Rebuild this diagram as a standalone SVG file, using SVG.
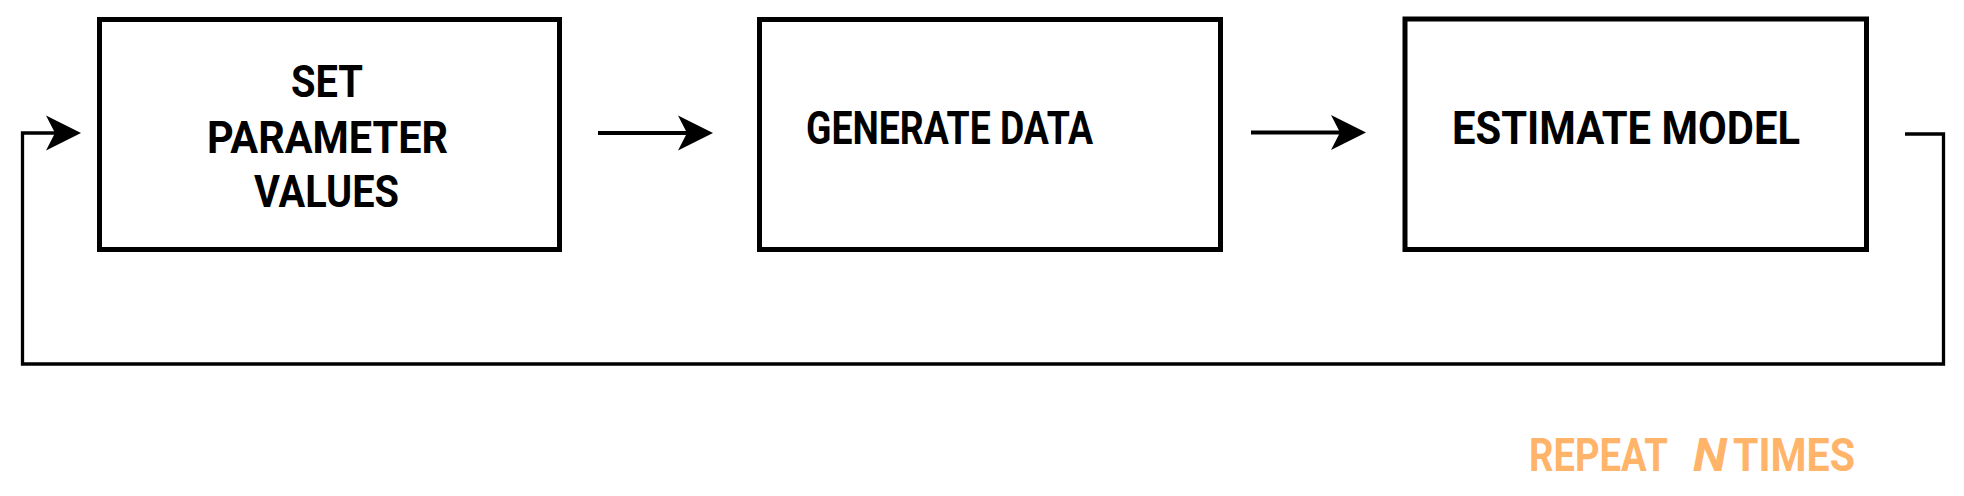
<svg xmlns="http://www.w3.org/2000/svg" xmlns:xlink="http://www.w3.org/1999/xlink" width="1964" height="496" viewBox="0 0 1964 496">
<style>
.box{fill:#fff;stroke:#000;stroke-width:5}
.lbl{font-family:Roboto,"Liberation Sans",sans-serif;font-weight:700;font-size:44px;fill:#000}
.rep{font-family:Roboto,"Liberation Sans",sans-serif;font-weight:700;font-size:46px;fill:#ffb46a}
.conn{fill:none;stroke:#000;stroke-width:4}
.loop{fill:none;stroke:#000;stroke-width:3.3}
.head{fill:#000;stroke:none}
</style>
<defs>
<path id="head" d="M0,0 L-35,-17.5 L-26,0 L-35,17.5 Z"/>
</defs>
<rect width="1964" height="496" fill="#fff"/>
<g id="set-parameter-values">
<rect class="box" x="99.5" y="19.5" width="460" height="230"/>
<text class="lbl" x="291" y="97" textLength="72" lengthAdjust="spacingAndGlyphs">SET</text>
<text class="lbl" x="207" y="152.5" textLength="241" lengthAdjust="spacingAndGlyphs">PARAMETER</text>
<text class="lbl" x="254" y="207" textLength="145" lengthAdjust="spacingAndGlyphs">VALUES</text>
</g>
<g id="generate-data">
<rect class="box" x="759.5" y="19.5" width="461" height="230"/>
<text class="lbl" x="806" y="144" textLength="287" lengthAdjust="spacingAndGlyphs" style="font-size:46px">GENERATE DATA</text>
</g>
<g id="estimate-model">
<rect class="box" x="1405" y="19" width="461.5" height="230.5"/>
<text class="lbl" x="1452" y="144" textLength="348" lengthAdjust="spacingAndGlyphs" style="font-size:46px">ESTIMATE MODEL</text>
</g>
<g id="connectors">
<line class="conn" x1="598" y1="133" x2="690" y2="133"/>
<use class="head" href="#head" xlink:href="#head" transform="translate(713,133)"/>
<line class="conn" x1="1251" y1="132.5" x2="1343" y2="132.5"/>
<use class="head" href="#head" xlink:href="#head" transform="translate(1366,132.5)"/>
<polyline class="loop" points="1905,134 1943.5,134 1943.5,364 22.5,364 22.5,133 58,133"/>
<use class="head" href="#head" xlink:href="#head" transform="translate(81,133)"/>
</g>
<g id="repeat-label">
<text class="rep" x="1529" y="471" textLength="139" lengthAdjust="spacingAndGlyphs">REPEAT</text>
<text class="rep" x="1693" y="471" textLength="34" lengthAdjust="spacingAndGlyphs" font-style="italic">N</text>
<text class="rep" x="1733" y="471" textLength="122" lengthAdjust="spacingAndGlyphs">TIMES</text>
</g>
</svg>
